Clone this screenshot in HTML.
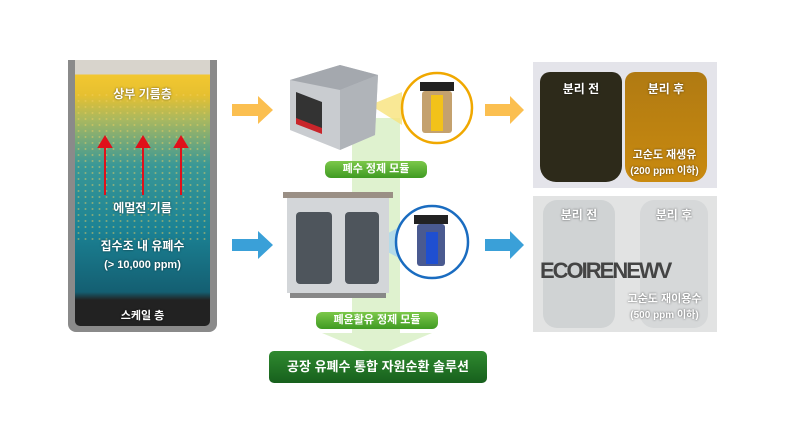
<!DOCTYPE html>
<html><head><meta charset="utf-8">
<style>
body{margin:0;width:794px;height:425px;background:#fff;position:relative;overflow:hidden;font-family:"Liberation Sans","Noto Sans CJK KR",sans-serif}
.a{position:absolute}
.t{position:absolute;color:#fff;font-weight:bold;text-align:center;text-shadow:0 0 2px rgba(0,0,0,.6)}
.pill{position:absolute;background:linear-gradient(#7cc84a,#3f9a22);border-radius:6px;color:#fff;font-weight:bold;font-size:11px;text-align:center;line-height:17px}
</style></head><body>
<!-- tank -->
<div class="a" style="left:68px;top:60px;width:149px;height:272px;background:#8a8a8a;border-radius:0 0 8px 8px"></div>
<div class="a" style="left:75px;top:60px;width:135px;height:266px;border-radius:0 0 5px 5px;background:linear-gradient(#d8d4cc 0,#d8d4cc 14px,#f2c730 15px,#e6c030 35px,#a8b860 60px,#3a9896 105px,#1b8294 170px,#145f72 232px,#222 240px,#222 266px)"></div>
<div class="a" style="left:75px;top:92px;width:135px;height:150px;background-image:radial-gradient(#f3d060 0.8px,transparent 1.2px);background-size:7px 6px;opacity:.5"></div>
<div class="t" style="left:75px;top:85px;width:135px;font-size:12px">상부 기름층</div>
<svg class="a" style="left:75px;top:135px" width="135" height="65">
<g stroke="#e0101a" stroke-width="2" fill="#e0101a">
<line x1="30" y1="60" x2="30" y2="10"/><polygon points="24,12 36,12 30,2"/>
<line x1="68" y1="60" x2="68" y2="10"/><polygon points="62,12 74,12 68,2"/>
<line x1="106" y1="60" x2="106" y2="10"/><polygon points="100,12 112,12 106,2"/></g></svg>
<div class="t" style="left:75px;top:199px;width:135px;font-size:12px">에멀전 기름</div>
<div class="t" style="left:75px;top:237px;width:135px;font-size:12px">집수조 내 유폐수</div>
<div class="t" style="left:75px;top:259px;width:135px;font-size:11px">(&gt; 10,000 ppm)</div>
<div class="t" style="left:75px;top:307px;width:135px;font-size:11px">스케일 층</div>
<!-- arrows -->
<svg class="a" style="left:0;top:0" width="794" height="425">
<polygon points="232,104 258,104 258,96 273,110 258,124 258,116 232,116" fill="#fbbf50"/>
<polygon points="232,239 258,239 258,231 273,245 258,259 258,251 232,251" fill="#3aa0d8"/>
<polygon points="485,104 510,104 510,96 524,110 510,124 510,116 485,116" fill="#fbbf50"/>
<polygon points="485,239 510,239 510,231 524,245 510,259 510,251 485,251" fill="#3aa0d8"/>
<rect x="352" y="118" width="48" height="215" fill="#dff2cf"/>
<polygon points="322,333 432,333 377,356" fill="#dff2cf"/>
<polygon points="370,105 402,92 402,125" fill="#f7e27a" opacity=".8"/>
<polygon points="370,243 403,225 403,260" fill="#a9d4ef" opacity=".8"/>
<!-- machine 1 -->
<polygon points="290,80 340,65 378,75 375,135 340,150 290,130" fill="#c9ccd0"/>
<polygon points="340,90 378,75 375,135 340,150" fill="#b0b4b9"/>
<polygon points="290,80 340,65 378,75 340,90" fill="#a4a8ae"/>
<polygon points="296,92 322,102 322,130 296,120" fill="#333"/>
<polygon points="296,118 322,128 322,134 296,124" fill="#c8252b"/>
<!-- machine 2 -->
<rect x="283" y="192" width="110" height="6" fill="#9a8f85"/>
<rect x="287" y="198" width="102" height="95" fill="#d3d6d9"/>
<rect x="296" y="212" width="36" height="72" rx="4" fill="#4e555c"/>
<rect x="345" y="212" width="34" height="72" rx="4" fill="#4e555c"/>
<rect x="290" y="293" width="96" height="5" fill="#888"/>
<!-- circles -->
<circle cx="437" cy="108" r="35" fill="#fff" stroke="#f0a800" stroke-width="2.5"/>
<rect x="420" y="82" width="34" height="9" fill="#222"/>
<rect x="422" y="91" width="30" height="42" rx="3" fill="#b58a4a" opacity=".8"/>
<rect x="431" y="95" width="12" height="36" fill="#f2c21a"/>
<circle cx="432" cy="242" r="36" fill="#fff" stroke="#1a6cc0" stroke-width="2.5"/>
<rect x="414" y="215" width="34" height="9" fill="#222"/>
<rect x="417" y="224" width="28" height="42" rx="3" fill="#4a5a90"/>
<rect x="426" y="232" width="12" height="32" fill="#1f4fd0"/>
</svg>
<div class="pill" style="left:325px;top:161px;width:102px">폐수 정제 모듈</div>
<div class="pill" style="left:316px;top:312px;width:122px">폐윤활유 정제 모듈</div>
<div class="a" style="left:269px;top:351px;width:218px;height:32px;background:linear-gradient(#2f8a2f,#17601d);border-radius:5px;color:#fff;font-weight:bold;font-size:13px;text-align:center;line-height:32px">공장 유폐수 통합 자원순환 솔루션</div>
<!-- photos -->
<div class="a" style="left:533px;top:62px;width:184px;height:126px;background:#e4e4ea"></div>
<div class="a" style="left:540px;top:72px;width:82px;height:110px;border-radius:10px 10px 16px 16px;background:#2d2a1a"></div>
<div class="a" style="left:625px;top:72px;width:82px;height:110px;border-radius:10px 10px 16px 16px;background:linear-gradient(#b07a12,#c98a10)"></div>
<div class="t" style="left:540px;top:80px;width:82px;font-size:12px">분리 전</div>
<div class="t" style="left:625px;top:80px;width:82px;font-size:12px">분리 후</div>
<div class="t" style="left:612px;top:146px;width:105px;font-size:11px">고순도 재생유</div>
<div class="t" style="left:612px;top:162px;width:105px;font-size:10px">(200 ppm 이하)</div>
<div class="a" style="left:533px;top:196px;width:184px;height:136px;background:#e2e3e3"></div>
<div class="a" style="left:543px;top:200px;width:72px;height:128px;border-radius:14px;background:#d0d3d4"></div>
<div class="a" style="left:640px;top:200px;width:68px;height:128px;border-radius:14px;background:#d6d8d9"></div>
<div class="a" style="left:540px;top:258px;width:177px;font-size:22px;font-weight:bold;color:#444;letter-spacing:-2px">ECOIRENEWV</div>
<div class="t" style="left:543px;top:206px;width:72px;font-size:12px">분리 전</div>
<div class="t" style="left:640px;top:206px;width:68px;font-size:12px">분리 후</div>
<div class="t" style="left:612px;top:290px;width:105px;font-size:11px">고순도 재이용수</div>
<div class="t" style="left:612px;top:306px;width:105px;font-size:10px">(500 ppm 이하)</div>
</body></html>
